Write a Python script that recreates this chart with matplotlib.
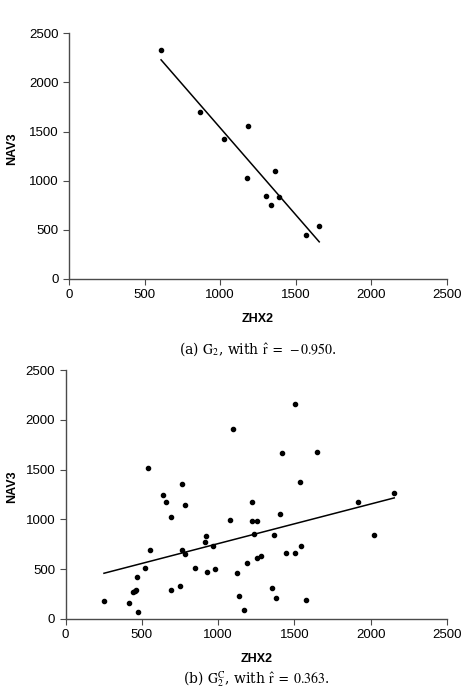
import numpy as np
import matplotlib
matplotlib.use("Agg")
import matplotlib.pyplot as plt

# panel (a): G2
zhx2_a = [609, 869, 1028, 1183, 1174, 1300, 1361, 1388, 1335, 1567, 1655]
nav3_a = [2330, 1699, 1425, 1553, 1031, 841, 1096, 838, 750, 444, 536]

# panel (b): G2^C
zhx2_b = [252, 419, 441, 453, 463, 471, 472, 520, 541, 554, 642, 661, 694, 692,
          753, 762, 766, 785, 785, 846, 916, 918, 925, 966, 981, 1077, 1097,
          1127, 1134, 1167, 1191, 1225, 1225, 1254, 1234, 1252, 1282, 1354,
          1367, 1382, 1408, 1419, 1448, 1502, 1502, 1537, 1546, 1578, 1648,
          1918, 2021, 2154]
nav3_b = [177, 163, 271, 281, 288, 426, 72, 516, 1519, 688, 1243, 1176, 1021,
          291, 331, 691, 1354, 1149, 648, 510, 776, 833, 473, 728, 500, 998,
          1903, 466, 230, 93, 560, 1179, 988, 988, 850, 611, 628, 315, 843,
          207, 1055, 1664, 665, 2155, 661, 1375, 735, 187, 1674, 1173, 840, 1267]

ticks = [0, 500, 1000, 1500, 2000, 2500]
captions = [r'(a) $\mathrm{G}_2$, with $\hat{\mathrm{r}}\ =\ -0.950$.',
            r'(b) $\mathrm{G}_2^{\mathrm{C}}$, with $\hat{\mathrm{r}}\ =\ 0.363$.']

plt.rcParams['font.family'] = ['Liberation Sans', 'DejaVu Sans']
plt.rcParams['mathtext.fontset'] = 'stix'

fig = plt.figure(figsize=(4.69, 6.88), dpi=100)
ax1 = fig.add_axes([0.1471, 0.5945, 0.806, 0.3571])
ax2 = fig.add_axes([0.1397, 0.1003, 0.8134, 0.3619])

for ax, xs, ys, cap, cy, lx_pos in [(ax1, zhx2_a, nav3_a, captions[0], 349 / 688, -0.135),
                                    (ax2, zhx2_b, nav3_b, captions[1], 679 / 688, -0.125)]:
    xs = np.array(xs)
    ys = np.array(ys)
    ax.plot(xs, ys, 'o', color='black', markersize=3)
    m, b = np.polyfit(xs, ys, 1)
    lx = np.array([xs.min(), xs.max()])
    ax.plot(lx, m * lx + b, color='black', linewidth=1.1)
    ax.set_xlim(0, 2500)
    ax.set_ylim(0, 2500)
    ax.set_xticks(ticks)
    ax.set_yticks(ticks)
    for s in ['top', 'right']:
        ax.spines[s].set_visible(False)
    for s in ['left', 'bottom']:
        ax.spines[s].set_color('#4a4a4a')
        ax.spines[s].set_linewidth(1.0)
    ax.tick_params(direction='out', length=4, color='#4a4a4a', labelsize=9.5)
    ax.set_xlabel('ZHX2', fontsize=9, fontweight='bold', labelpad=8)
    ax.set_ylabel('NAV3', fontsize=9, fontweight='bold')
    ax.yaxis.set_label_coords(lx_pos, 0.53)
    box = ax.get_position()
    fig.text((box.x0 + box.x1) / 2, 1 - cy, cap, ha='center', va='center',
             fontsize=10, family='serif')

fig.savefig('out.png', dpi=100)
